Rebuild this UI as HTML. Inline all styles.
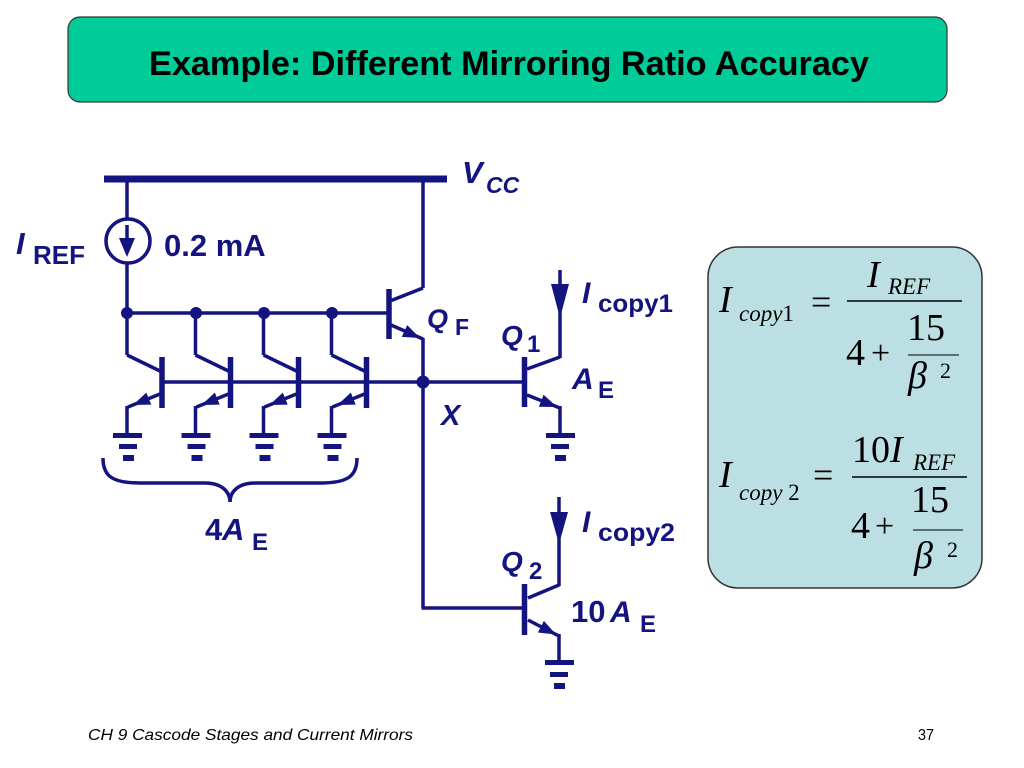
<!DOCTYPE html>
<html><head><meta charset="utf-8"><style>
html,body{margin:0;padding:0;background:#fff;}
svg{display:block;}
.w{stroke:#141480;stroke-width:3.5;fill:none;}
.bar{stroke:#141480;stroke-width:5.5;fill:none;}
.f{fill:#141480;}
.lb{font-family:"Liberation Sans",Arial,Helvetica,sans-serif;font-weight:bold;fill:#141480;}
.it{font-style:italic;}
.m{font-family:"Liberation Serif","Times New Roman",serif;fill:#000;}
.ft{font-family:"Liberation Sans",Arial,Helvetica,sans-serif;fill:#000;}
</style></head><body>
<svg width="1024" height="768" viewBox="0 0 1024 768" xmlns="http://www.w3.org/2000/svg">
<rect x="0" y="0" width="1024" height="768" fill="#fff"/>
<!-- Title -->
<rect x="68" y="17" width="879" height="85" rx="12" fill="#00CC99" stroke="#333" stroke-width="1.2"/>
<text class="ft" x="149" y="75" font-weight="bold" font-size="34" textLength="720" lengthAdjust="spacingAndGlyphs">Example:  Different Mirroring Ratio Accuracy</text>

<!-- VCC rail -->
<line x1="104" y1="179" x2="447" y2="179" stroke="#141480" stroke-width="7"/>
<text class="lb it" x="462" y="183" font-size="31">V</text>
<text class="lb it" x="486" y="193" font-size="23">CC</text>

<!-- current source -->
<line class="w" x1="127" y1="179" x2="127" y2="219"/>
<circle cx="128" cy="241" r="22" stroke="#141480" stroke-width="3.5" fill="none"/>
<line class="w" x1="127" y1="225" x2="127" y2="242"/>
<polygon class="f" points="119,238 135,238 127,257"/>
<line class="w" x1="127" y1="263" x2="127" y2="313"/>
<text class="lb it" x="16" y="254" font-size="31">I</text>
<text class="lb" x="33" y="264" font-size="26">REF</text>
<text class="lb" x="164" y="256" font-size="31">0.2 mA</text>

<!-- base line QF -->
<line class="w" x1="127" y1="313" x2="388" y2="313"/>
<circle class="f" cx="127" cy="313" r="6"/>
<circle class="f" cx="196" cy="313" r="6"/>
<circle class="f" cx="264" cy="313" r="6"/>
<circle class="f" cx="332" cy="313" r="6"/>

<!-- mirror transistors -->
<g id="mt">
<line class="w" x1="127" y1="313" x2="127" y2="355"/>
<line class="w" x1="127" y1="355" x2="160" y2="371"/>
<line class="bar" x1="162" y1="357" x2="162" y2="408"/>
<line class="w" x1="160" y1="394" x2="128" y2="407"/>
<polygon class="f" points="133,405 151.2,404.6 146.3,392.6"/>
<line class="w" x1="127" y1="406" x2="127" y2="434"/>
<rect class="f" x="113" y="433" width="29" height="5"/>
<rect class="f" x="119" y="444" width="18" height="5"/>
<rect class="f" x="123" y="455" width="11" height="6"/>
</g>
<use href="#mt" transform="translate(68.5,0)"/>
<use href="#mt" transform="translate(136.5,0)"/>
<use href="#mt" transform="translate(204.5,0)"/>

<!-- base line to Q1 -->
<line class="w" x1="162" y1="382" x2="524" y2="382"/>

<!-- QF -->
<line class="w" x1="423" y1="179" x2="423" y2="288"/>
<line class="w" x1="423" y1="288" x2="390" y2="301"/>
<line class="bar" x1="389" y1="289" x2="389" y2="339"/>
<line class="w" x1="391" y1="325" x2="423" y2="339"/>
<polygon class="f" points="420,338 401.8,336.9 407.2,325.1"/>
<line class="w" x1="423" y1="338" x2="423" y2="608"/>
<line class="w" x1="421.5" y1="608" x2="524" y2="608"/>
<circle class="f" cx="423" cy="382" r="6.5"/>
<text class="lb it" x="427" y="328" font-size="27">Q</text>
<text class="lb" x="455" y="335" font-size="23">F</text>
<text class="lb it" x="441" y="425" font-size="29">X</text>

<!-- Q1 -->
<line class="bar" x1="524.5" y1="357" x2="524.5" y2="407"/>
<line class="w" x1="527" y1="369" x2="560" y2="357"/>
<line class="w" x1="560" y1="270" x2="560" y2="358"/>
<polygon class="f" points="551,284 569,284 560,318"/>
<line class="w" x1="527" y1="395" x2="560" y2="408"/>
<polygon class="f" points="557,407 538.8,406.8 543.6,394.8"/>
<line class="w" x1="560" y1="406" x2="560" y2="434"/>
<rect class="f" x="546" y="433" width="29" height="5"/>
<rect class="f" x="551" y="444" width="18" height="5"/>
<rect class="f" x="555" y="455" width="11" height="6"/>
<text class="lb it" x="501" y="345" font-size="28">Q</text>
<text class="lb" x="527" y="352" font-size="24">1</text>
<text class="lb it" x="582" y="303" font-size="30">I</text>
<text class="lb" x="598" y="312" font-size="25" textLength="75" lengthAdjust="spacingAndGlyphs">copy1</text>
<text class="lb it" x="572" y="389" font-size="30">A</text>
<text class="lb" x="598" y="398" font-size="24">E</text>

<!-- Q2 -->
<line class="bar" x1="524.5" y1="584" x2="524.5" y2="635"/>
<line class="w" x1="528" y1="598" x2="559" y2="585"/>
<line class="w" x1="559" y1="497" x2="559" y2="586"/>
<polygon class="f" points="550,512 568,512 559,544"/>
<line class="w" x1="528" y1="620" x2="559" y2="636"/>
<polygon class="f" points="556,634.5 537.9,632.5 543.9,620.9"/>
<line class="w" x1="559" y1="634" x2="559" y2="661"/>
<rect class="f" x="545" y="660" width="29" height="5"/>
<rect class="f" x="550" y="672" width="18" height="5"/>
<rect class="f" x="554" y="683" width="11" height="6"/>
<text class="lb it" x="501" y="571" font-size="28">Q</text>
<text class="lb" x="529" y="579" font-size="24">2</text>
<text class="lb it" x="582" y="532" font-size="30">I</text>
<text class="lb" x="598" y="541" font-size="25" textLength="77" lengthAdjust="spacingAndGlyphs">copy2</text>
<text class="lb" x="571" y="622" font-size="31">10</text>
<text class="lb it" x="610" y="622" font-size="30">A</text>
<text class="lb" x="640" y="632" font-size="24">E</text>

<!-- brace -->
<path class="w" d="M103,458 C103,476 112,483 140,483 L205,483 C222,483 230,492 230,502 C230,492 238,483 255,483 L320,483 C348,483 357,476 357,458" stroke-width="3"/>
<text class="lb" x="205" y="540" font-size="31">4</text>
<text class="lb it" x="222" y="540" font-size="31">A</text>
<text class="lb" x="252" y="550" font-size="24">E</text>

<!-- formula box -->
<rect x="708" y="247" width="274" height="341" rx="30" fill="#BCDFE3" stroke="#333" stroke-width="1.5"/>
<!-- F1 -->
<text class="m it" x="719" y="312" font-size="38">I</text>
<text class="m" x="739" y="321" font-size="23"><tspan font-style="italic">copy</tspan>1</text>
<text class="m" x="811" y="314" font-size="36">=</text>
<line x1="847" y1="301" x2="962" y2="301" stroke="#000" stroke-width="1.5"/>
<text class="m it" x="867" y="287" font-size="38">I</text>
<text class="m it" x="888" y="294" font-size="23">REF</text>
<text class="m" x="846" y="365" font-size="38">4</text>
<text class="m" x="871" y="364" font-size="34">+</text>
<text class="m" x="907" y="340" font-size="38">15</text>
<line x1="908" y1="355" x2="959" y2="355" stroke="#000" stroke-width="1"/>
<text class="m it" x="908" y="388" font-size="38">β</text>
<text class="m" x="940" y="378" font-size="22">2</text>
<!-- F2 -->
<text class="m it" x="719" y="487" font-size="38">I</text>
<text class="m" x="739" y="500" font-size="23"><tspan font-style="italic">copy</tspan> 2</text>
<text class="m" x="813" y="487" font-size="36">=</text>
<line x1="852" y1="477" x2="967" y2="477" stroke="#000" stroke-width="1.5"/>
<text class="m" x="852" y="462" font-size="38">10<tspan font-style="italic">I</tspan></text>
<text class="m it" x="913" y="470" font-size="23">REF</text>
<text class="m" x="851" y="538" font-size="38">4</text>
<text class="m" x="875" y="537" font-size="34">+</text>
<text class="m" x="911" y="512" font-size="38">15</text>
<line x1="913" y1="530" x2="963" y2="530" stroke="#000" stroke-width="1"/>
<text class="m it" x="914" y="568" font-size="38">β</text>
<text class="m" x="947" y="557" font-size="22">2</text>

<!-- footer -->
<text class="ft" x="88" y="740" font-style="italic" font-size="16" textLength="325" lengthAdjust="spacingAndGlyphs">CH 9  Cascode Stages and Current Mirrors</text>
<text class="ft" x="918" y="740" font-size="16" textLength="16" lengthAdjust="spacingAndGlyphs">37</text>
</svg>
</body></html>
